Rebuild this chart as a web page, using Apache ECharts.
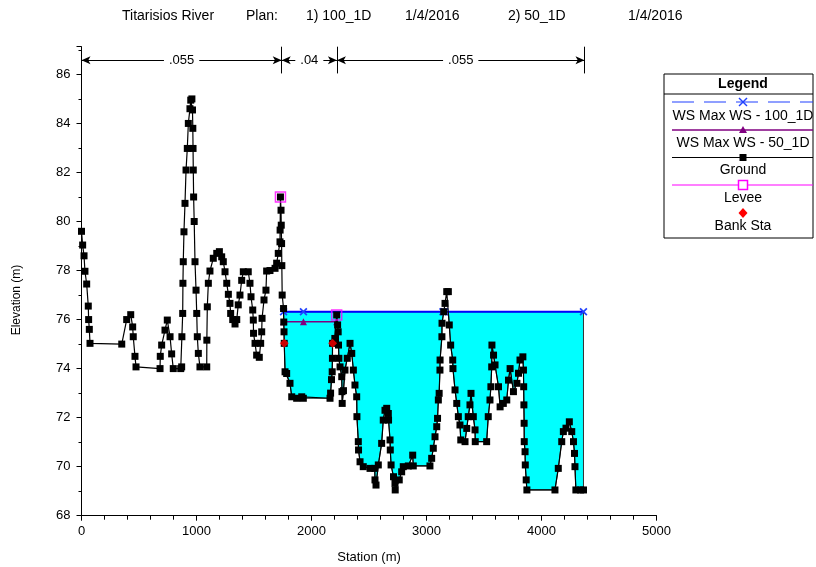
<!DOCTYPE html>
<html><head><meta charset="utf-8">
<script src="https://cdn.jsdelivr.net/npm/echarts@6/dist/echarts.min.js"></script>
<style>html,body{margin:0;padding:0;background:#fff}#c{width:816px;height:567px}</style>
</head><body><div id="c"></div>
<script>
// ---- Data ----
const groundSta = [0,10,22,30,45,59,62,68,74,350,393,428,445,450,465,474,683,685,697,726,746,770,784,798,863,871,873,880,882,885,891,900,909,920,929,943,950,960,965,968,970,972,975,980,987,996,1002,1007,1016,1030,1089,1090,1094,1103,1117,1146,1176,1199,1219,1233,1248,1263,1277,1291,1297,1315,1335,1350,1363,1378,1393,1407,1450,1465,1474,1489,1494,1496,1509,1523,1546,1558,1567,1570,1587,1604,1610,1639,1683,1697,1711,1726,1727,1730,1735,1737,1740,1742,1745,1757,1759,1761,1763,1770,1784,1813,1828,1871,1915,1929,2161,2166,2174,2180,2182,2183,2203,2219,2227,2232,2235,2238,2248,2263,2265,2267,2278,2291,2311,2335,2350,2364,2378,2393,2395,2407,2409,2422,2450,2509,2550,2552,2561,2581,2610,2624,2639,2654,2668,2670,2683,2685,2692,2713,2726,2728,2763,2784,2798,2842,2880,2885,3030,3045,3059,3074,3089,3096,3103,3110,3117,3118,3134,3135,3150,3161,3176,3190,3198,3210,3228,3230,3248,3263,3277,3291,3298,3335,3350,3363,3378,3387,3407,3422,3424,3523,3537,3552,3560,3567,3569,3583,3596,3626,3640,3668,3698,3713,3727,3756,3786,3800,3813,3838,3843,3845,3847,3849,3850,3857,3859,3867,3873,4117,4146,4176,4190,4213,4242,4263,4278,4287,4291,4299,4340,4365];
const groundElev = [79.6,79.04,78.6,77.97,77.45,76.55,76.0,75.6,75.03,75.0,76.0,76.2,75.7,75.3,74.5,74.07,74.0,74.5,74.96,75.57,75.98,75.3,74.6,74.0,74.0,74.07,75.3,76.25,77.48,78.36,79.58,80.74,82.1,82.98,84.0,84.6,84.95,85.0,84.55,83.8,82.98,82.1,81.0,80.0,78.36,77.2,76.25,75.3,74.62,74.07,74.07,75.16,76.52,77.48,77.98,78.5,78.7,78.77,78.56,78.36,77.95,77.48,77.03,76.66,76.25,76.0,75.82,76.0,76.6,77.0,77.6,77.95,77.95,77.48,76.93,76.39,75.98,75.44,75.03,74.55,74.46,75.03,75.5,76.05,76.8,77.2,77.98,78.0,78.09,78.3,78.7,79.17,79.65,81.0,80.46,79.85,79.1,78.2,77.0,76.45,75.9,75.5,75.03,73.87,73.8,73.4,72.85,72.79,72.85,72.79,72.79,73.0,73.55,73.87,74.42,75.03,75.23,76.19,75.78,75.5,74.96,74.42,74.07,73.67,73.06,72.58,73.1,73.94,74.42,75.03,74.62,73.94,73.33,72.85,72.04,71.02,70.68,70.2,70.0,69.93,69.93,69.46,69.25,70.07,70.95,71.9,72.3,72.38,72.17,71.9,71.09,70.68,70.07,69.59,69.32,69.05,69.46,69.79,70.0,70.03,70.47,70.03,70.03,70.34,70.75,71.22,71.63,71.97,72.72,72.99,73.94,74.35,75.3,75.85,76.32,76.66,77.14,77.14,75.78,74.96,74.35,74.0,73.13,72.58,72.04,71.7,71.09,71.02,71.56,72.04,72.52,72.99,72.04,71.5,71.02,71.02,72.04,72.72,73.26,74.07,74.96,74.55,74.15,73.26,72.44,72.58,72.72,73.53,74.0,73.06,73.4,73.81,74.35,74.48,73.94,73.26,72.52,71.77,71.02,70.61,70.07,69.46,69.05,69.05,69.93,71.02,71.43,71.57,71.83,71.43,71.02,70.54,70.0,69.05,69.05,69.05];
const ws100Sta = [1757,1930,3143,3158,4365];
const ws100Elev = [76.32,76.32,76.32,76.32,76.32];
const ws50Sta = [1757,1930,2219];
const ws50Elev = [75.91,75.91,75.91];
const leveeSta = [1730,2219];
const leveeElev = [81.0,76.19];
const bankSta = [1763,2183];
const bankElev = [75.03,75.03];
const nBreaks = [0,1741,2221,4374];
const nValues = ['.055','.04','.055'];
const nLineElev = 86.58, nBarLow = 86.04, nBarHigh = 87.13;
const titleParts = ['Titarisios River','Plan:','1) 100_1D','1/4/2016','2) 50_1D','1/4/2016'];
const titleX = [122,246,306,405,508,628];
const legendLabels = ['WS Max WS - 100_1D','WS Max WS - 50_1D','Ground','Levee','Bank Sta'];

// ---- Build ----
const pair = (a,b)=>a.map((v,i)=>[v,b[i]]);
const groundData = pair(groundSta, groundElev);
const FONT = '"Liberation Sans", Arial, sans-serif';
const xPath = 'path://M0,1.5L1.5,0L5,3.5L8.5,0L10,1.5L6.5,5L10,8.5L8.5,10L5,6.5L1.5,10L0,8.5L3.5,5Z';

const markData = [];
for (let i=0;i<nValues.length;i++){
  markData.push([
    {coord:[nBreaks[i], nLineElev], symbol:'arrow', symbolSize:[6,9]},
    {coord:[nBreaks[i+1], nLineElev], symbol:'arrow', symbolSize:[6,9]}
  ]);
}
for (let i=1;i<nBreaks.length;i++){
  markData.push([
    {coord:[nBreaks[i], nBarLow], symbol:'none'},
    {coord:[nBreaks[i], nBarHigh], symbol:'none'}
  ]);
}
const nLabelData = nValues.map((v,i)=>({coord:[(nBreaks[i]+nBreaks[i+1])/2, nLineElev], value:v}));

const graphics = [];
titleParts.forEach((t,i)=>graphics.push({type:'text', x:titleX[i], y:16, style:{text:t, font:'14px '+FONT, fill:'#000', textVerticalAlign:'middle'}}));
graphics.push({type:'text', x:17, y:300, rotation:Math.PI/2, style:{text:'Elevation (m)', font:'12px '+FONT, fill:'#000', textAlign:'center', textVerticalAlign:'middle'}});
// legend box
const LX=664, LY=74, LW=149, LH=164, LC=743, L1=672, L2=813;
graphics.push({type:'rect', shape:{x:LX,y:LY,width:LW,height:LH}, style:{fill:'#fff', stroke:'#000', lineWidth:1}, z:10});
graphics.push({type:'line', shape:{x1:LX,y1:94,x2:LX+LW,y2:94}, style:{stroke:'#000', lineWidth:1}, z:11});
graphics.push({type:'text', x:LC, y:84, style:{text:'Legend', font:'bold 14px '+FONT, fill:'#000', textAlign:'center', textVerticalAlign:'middle'}, z:11});
const symY=[102,130,157.5,185,213], txtY=[116,143,170,198,226];
graphics.push({type:'line', shape:{x1:L1,y1:symY[0],x2:L2,y2:symY[0]}, style:{stroke:'#2040ff', lineWidth:1.2, lineDash:[22,10]}, z:11});
graphics.push({type:'line', shape:{x1:LC-4,y1:symY[0]-4,x2:LC+4,y2:symY[0]+4}, style:{stroke:'#2040ff', lineWidth:1.5}, z:12});
graphics.push({type:'line', shape:{x1:LC-4,y1:symY[0]+4,x2:LC+4,y2:symY[0]-4}, style:{stroke:'#2040ff', lineWidth:1.5}, z:12});
graphics.push({type:'line', shape:{x1:L1,y1:symY[1],x2:L2,y2:symY[1]}, style:{stroke:'#800080', lineWidth:1.5}, z:11});
graphics.push({type:'polygon', shape:{points:[[LC,symY[1]-4],[LC+4,symY[1]+3],[LC-4,symY[1]+3]]}, style:{fill:'#800080'}, z:12});
graphics.push({type:'line', shape:{x1:L1,y1:symY[2],x2:L2,y2:symY[2]}, style:{stroke:'#000', lineWidth:1.2}, z:11});
graphics.push({type:'rect', shape:{x:LC-3.5,y:symY[2]-3.5,width:7,height:7}, style:{fill:'#000'}, z:12});
graphics.push({type:'line', shape:{x1:L1,y1:symY[3],x2:L2,y2:symY[3]}, style:{stroke:'#ff00ff', lineWidth:1.2}, z:11});
graphics.push({type:'rect', shape:{x:LC-4.5,y:symY[3]-4.5,width:9,height:9}, style:{fill:'#fff', stroke:'#ff00ff', lineWidth:1.5}, z:12});
graphics.push({type:'polygon', shape:{points:[[LC,symY[4]-5],[LC+4.5,symY[4]],[LC,symY[4]+5],[LC-4.5,symY[4]]]}, style:{fill:'#ff0000'}, z:12});
legendLabels.forEach((t,i)=>graphics.push({type:'text', x:LC, y:txtY[i], style:{text:t, font:'14px '+FONT, fill:'#000', textAlign:'center', textVerticalAlign:'middle'}, z:12}));

const chart = echarts.init(document.getElementById('c'), null, {renderer:'canvas'});
chart.setOption({
  animation:false,
  backgroundColor:'#fff',
  textStyle:{fontFamily:FONT},
  grid:{left:81.5, right:159.5, top:46.7, bottom:51.3, containLabel:false, outerBoundsMode:'none'},
  xAxis:{type:'value', min:0, max:5000, interval:1000,
    name:'Station (m)', nameLocation:'middle', nameGap:35, nameTextStyle:{color:'#000', fontSize:13, fontFamily:FONT},
    axisLine:{show:true, onZero:false, lineStyle:{color:'#000', width:1}},
    axisTick:{show:true, length:5, lineStyle:{color:'#000'}},
    minorTick:{show:true, splitNumber:5, length:4, lineStyle:{color:'#000'}},
    splitLine:{show:false},
    axisLabel:{color:'#000', fontSize:13, margin:9, fontFamily:FONT, formatter:v=>String(v)}},
  yAxis:{type:'value', min:68, max:nBarHigh, interval:2,
    axisLine:{show:true, onZero:false, lineStyle:{color:'#000', width:1}},
    axisTick:{show:true, length:5, lineStyle:{color:'#000'}},
    minorTick:{show:true, splitNumber:2, length:3, lineStyle:{color:'#000'}},
    splitLine:{show:false},
    axisLabel:{color:'#000', fontSize:13, margin:11, showMaxLabel:false, fontFamily:FONT}},
  graphic: graphics,
  series:[
    {type:'custom', name:'fill', z:1, silent:true, data:[[ws100Sta[0], ws100Elev[0]]],
      encode:{x:0,y:1},
      renderItem:function(params, api){
        const ws = ws100Elev[0], s0 = ws100Sta[0], s1 = ws100Sta[ws100Sta.length-1];
        const pts = [api.coord([s0, ws]), api.coord([s1, ws])];
        for (let i=groundSta.length-1;i>=0;i--){
          const s = groundSta[i];
          if (s>=s0 && s<=s1) pts.push(api.coord([s, Math.min(groundElev[i], ws)]));
        }
        return {type:'polygon', shape:{points:pts}, style:{fill:'#00ffff', stroke:'#333', lineWidth:1}};
      }},
    {type:'line', name:'WS Max WS - 100_1D', z:3, data:pair(ws100Sta, ws100Elev), symbol:xPath, symbolSize:8, showAllSymbol:true,
      itemStyle:{color:'#2040ff'}, lineStyle:{color:'#0000ff', width:2}},
    {type:'line', name:'WS Max WS - 50_1D', z:4, data:pair(ws50Sta, ws50Elev), symbol:'triangle', symbolSize:7, showAllSymbol:true,
      itemStyle:{color:'#800080'}, lineStyle:{color:'#800080', width:1.5}},
    {type:'line', name:'Ground', z:5, data:groundData, symbol:'rect', symbolSize:7, showAllSymbol:true,
      itemStyle:{color:'#000'}, lineStyle:{color:'#000', width:1.2}},
    {type:'scatter', name:'Levee', z:6, data:pair(leveeSta, leveeElev), symbol:'rect', symbolSize:10,
      itemStyle:{color:'rgba(0,0,0,0)', borderColor:'#ff00ff', borderWidth:1.5}},
    {type:'scatter', name:'Bank Sta', z:7, data:pair(bankSta, bankElev), symbol:'diamond', symbolSize:9,
      itemStyle:{color:'#ff0000'},
      markLine:{silent:true, animation:false, symbol:['none','none'],
        lineStyle:{color:'#000', width:1, type:'solid'},
        label:{show:false},
        emphasis:{disabled:true},
        data:markData},
      markPoint:{silent:true, animation:false, symbol:'rect', symbolSize:1,
        itemStyle:{color:'rgba(0,0,0,0)'},
        label:{show:true, position:'inside', formatter:p=>p.value, color:'#000', fontSize:13, fontFamily:FONT, backgroundColor:'#fff', padding:[1,5]},
        emphasis:{disabled:true},
        data:nLabelData}}
  ]
});
</script></body></html>
